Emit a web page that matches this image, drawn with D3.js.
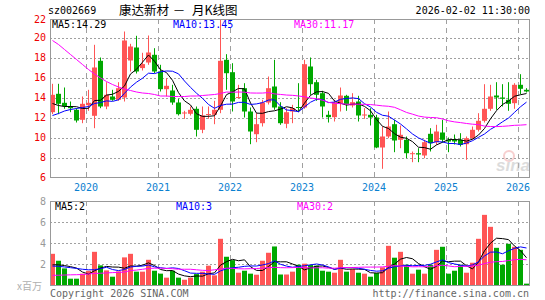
<!DOCTYPE html>
<html>
<head>
<meta charset="utf-8">
<script src="https://cdn.jsdelivr.net/npm/d3@7"></script>
<style>
  body { margin: 0; background: #fff; }
  svg text { font-family: "DejaVu Sans Mono", monospace; font-size: 10px; }
</style>
</head>
<body>
<div class="chart-container"></div>
<script>
// sz002669 monthly K line, Jul 2019 .. Feb 2026
const firstMonth = new Date(2019, 6, 1);

const open  = [12.53,14.37,13.47,13.13,12.77,11.77,13.23,12.17,17.67,13.1, 14.1,13.77,14.0,17.7,19.0,16.94,17.5,18.27,16.6,14.83,
               14.7,13.5,12.4,12.37,12.87,10.77,12.25,12.27,12.77,17.77, 16.53,13.95,14.93,12.6,10.33,11.43,13.5,15.1,13.1,11.37,
               12.6,13.05,13.0,17.1,15.53,14.43,12.27,12.03,13.43,14.17, 13.2,13.6,12.2,12.27,12.0,9.0,10.1,11.33,9.77,9.77,
               8.33,8.43,8.2,10.37,9.53,10.5,9.77,9.77,9.77,9.33, 9.93,10.77,11.67,12.87,14.2,14.0,13.77,13.43,15.27,14.77];
const high  = [15.37,15.37,15.0,13.6,12.93,14.1,14.77,19.27,18.0,15.53, 14.77,15.53,20.6,19.37,20.17,18.47,20.2,18.93,17.27,15.93,
               15.27,13.87,12.67,13.1,13.1,13.1,13.1,13.67,21.8,18.33, 17.43,15.27,15.43,13.0,12.43,13.77,16.1,17.77,13.53,12.93,
               13.27,15.43,17.77,18.0,15.77,14.67,12.67,13.77,15.0,14.27, 14.43,14.17,12.93,12.93,12.27,11.1,12.6,11.77,11.2,10.1,
               8.6,8.93,9.77,10.93,11.27,11.77,10.0,10.3,10.43,10.1, 11.1,12.43,15.33,15.27,15.53,15.33,15.53,15.43,16.33,14.93];
const low   = [12.33,12.33,12.87,12.53,11.5,11.43,12.67,10.93,12.93,12.83, 13.67,13.67,13.6,16.6,16.4,16.7,17.27,16.43,14.6,14.1,
               13.27,12.2,11.87,12.2,10.1,10.43,11.87,11.33,12.43,14.77, 12.6,13.93,12.0,9.33,9.53,11.1,13.3,12.77,11.27,10.93,
               11.43,12.6,12.87,14.27,13.67,12.0,11.5,11.6,12.6,12.67, 13.0,11.6,11.87,11.2,8.93,6.87,9.93,8.53,8.93,7.93,
               7.53,7.53,7.93,8.6,9.27,9.5,8.53,9.3,9.1,7.77, 9.8,10.6,11.5,12.67,12.77,13.1,12.67,12.87,14.33,14.5];
const close = [14.27,13.37,13.13,12.93,11.7,13.37,13.47,17.0,13.1,14.27, 13.77,14.93,19.7,19.1,16.6,17.34,18.5,16.6,14.83,15.17,
               13.5,12.33,12.5,12.77,10.77,12.2,12.35,12.77,17.67,16.43, 13.6,14.05,12.6,10.6,11.33,13.5,14.93,13.0,11.43,12.53,
               12.93,12.95,17.33,15.33,14.27,13.1,12.03,13.53,14.2,13.33, 13.53,12.2,12.3,12.0,9.0,10.1,11.1,9.7,10.27,8.43,
               8.43,8.3,9.53,9.43,10.6,9.77,9.6,9.6,9.27,9.93, 10.77,11.67,12.87,14.1,14.0,13.87,13.37,15.27,14.87,14.6];
// volume, millions of shares
const volume = [2.97,2.31,1.58,0.6,0.6,1.08,1.35,3.16,1.87,1.39, 0.79,1.3,2.63,2.97,1.27,1.27,2.4,1.36,1.08,0.7,
                1.36,0.7,0.5,0.7,1.04,1.27,1.84,0.92,4.4,2.69, 2.37,1.17,1.36,1.08,0.98,2.31,3.07,3.67,1.0,1.0,
                1.27,1.93,2.03,1.9,1.84,1.36,1.27,1.17,2.4,1.27, 1.52,1.17,1.08,0.79,1.14,1.68,3.73,2.6,3.16,1.93,
                1.08,1.46,1.08,1.93,3.35,3.64,1.08,1.36,1.93,1.17, 2.12,4.4,6.68,5.54,3.54,1.93,3.92,3.64,3.35,0.13];

// moving average values before a full window exists
const ma5Head  = [13.4,13.2,13.1,13.1];
const ma10Head = [12.2,12.4,12.65,12.8,12.9,13.0,13.1,13.4,13.5];
const ma30Head = [19.7,19.3,18.8,18.3,17.8,17.3,16.8,16.35,15.95,15.6,15.3,15.05,14.85,14.7,14.55,
                  14.45,14.4,14.3,14.15,14.15,14.1,14.1,14.1,14.15,14.15,14.2,14.25,14.3,14.4];
const vma5Head  = [1.92,1.92,1.85,1.75];
const vma10Head = [1.8,1.78,1.72,1.65,1.58,1.5,1.45,1.45,1.55];
const vma30Head = [0.92,0.93,0.95,0.97,0.98,1.0,1.05,1.1,1.12,1.15,1.18,1.2,1.23,1.38,1.42,
                   1.5,1.58,1.6,1.6,1.58,1.55,1.5,1.5,1.5,1.45,1.4,1.38,1.45,1.52];

const priceTicks = [6,8,10,12,14,16,18,20,22];
const volTicks = [2,4,6,8];
const yearLabels = ["2020","2021","2022","2023","2024","2025","2026"];
const priceMaLabels = ["MA5:14.29","MA10:13.45","MA30:11.17"];
const volMaLabels = ["MA5:2","MA10:3","MA30:2"];

const w = 545, h = 300;
const left = 50, right = 529.5;
const priceTop = 19, priceBottom = 177.5;
const volTop = 201, volBottom = 285;
const colors = { up: '#ff5555', down: '#00a800', ma5: '#000000', ma10: '#0000ff', ma30: '#ff00ff',
                 grid: '#a0a0a0', frame: '#999999' };

const months = d3.timeMonth.range(firstMonth, d3.timeMonth.offset(firstMonth, close.length));
const idx = d3.range(close.length);

function movingAvg(values, n, head) {
  return values.map((v, i) => i < n - 1 ? head[i] : d3.mean(values.slice(i - n + 1, i + 1)));
}

const x = d3.scaleBand().domain(idx).range([left, left + 6 * idx.length - 1]).paddingInner(1 / 6).paddingOuter(0);
const y = d3.scaleLinear().domain([6, 22]).range([priceBottom, 17.5]);
const yv = d3.scaleLinear().domain([0, 8]).range([volBottom, volTop]);
const cx = i => x(i) + x.bandwidth() / 2;
const isUp = i => close[i] >= open[i];

const svg = d3.select('.chart-container').append('svg')
  .attr('width', w).attr('height', h);
svg.append('rect').attr('width', w).attr('height', h).attr('fill', '#fff');

/* grid lines */
const yearIdx = yearLabels.map(yr => months.findIndex(m => m.getFullYear() === +yr && m.getMonth() === 0));

svg.append('g').selectAll('line').data(priceTicks.slice(1, -1)).enter().append('line')
  .attr('x1', left).attr('x2', right)
  .attr('y1', d => Math.round(y(d)) + 0.5).attr('y2', d => Math.round(y(d)) + 0.5)
  .style('stroke', colors.grid).style('stroke-dasharray', '2 2');
svg.append('g').selectAll('line').data(volTicks.slice(0, -1)).enter().append('line')
  .attr('x1', left).attr('x2', right)
  .attr('y1', d => Math.round(yv(d)) + 0.5).attr('y2', d => Math.round(yv(d)) + 0.5)
  .style('stroke', colors.grid).style('stroke-dasharray', '2 2');

[[priceTop, priceBottom], [volTop, volBottom]].forEach(([t, b]) => {
  svg.append('g').selectAll('line').data(yearIdx).enter().append('line')
    .attr('x1', d => x(d) + 0.5).attr('x2', d => x(d) + 0.5)
    .attr('y1', t).attr('y2', b)
    .style('stroke', colors.grid).style('stroke-dasharray', '5 4');
});

/* sina watermark */
const wm = svg.append('g').attr('opacity', 0.5);
wm.append('circle').attr('cx', 509).attr('cy', 156).attr('r', 5)
  .style('fill', 'none').style('stroke', '#f0a0a0').style('stroke-width', 2);
wm.append('text').attr('x', 496).attr('y', 171).text('sina')
  .style('font-family', 'Liberation Sans, sans-serif').style('font-size', '17px')
  .style('font-style', 'italic').style('font-weight', 'bold').style('fill', '#bbbbbb');

/* candles */
const candles = svg.append('g').selectAll('g').data(idx).enter().append('g');
candles.append('line')
  .attr('x1', i => Math.floor(cx(i)) + 0.5).attr('x2', i => Math.floor(cx(i)) + 0.5)
  .attr('y1', i => y(high[i])).attr('y2', i => y(low[i]))
  .style('stroke', i => isUp(i) ? colors.up : colors.down);
candles.append('rect')
  .attr('x', i => x(i)).attr('width', x.bandwidth())
  .attr('y', i => y(Math.max(open[i], close[i])))
  .attr('height', i => Math.max(1, Math.abs(y(open[i]) - y(close[i]))))
  .style('fill', i => isUp(i) ? colors.up : colors.down);

/* volume bars */
svg.append('g').selectAll('rect').data(idx).enter().append('rect')
  .attr('x', i => x(i)).attr('width', x.bandwidth())
  .attr('y', i => yv(volume[i]))
  .attr('height', i => volBottom - yv(volume[i]))
  .style('fill', i => isUp(i) ? colors.up : colors.down);

/* moving average lines */
const priceMa = [movingAvg(close, 5, ma5Head), movingAvg(close, 10, ma10Head), movingAvg(close, 30, ma30Head)];
const volMa = [movingAvg(volume, 5, vma5Head), movingAvg(volume, 10, vma10Head), movingAvg(volume, 30, vma30Head)];
const maColors = [colors.ma5, colors.ma10, colors.ma30];

priceMa.forEach((s, k) => {
  svg.append('path').datum(s)
    .attr('d', d3.line().x((d, i) => cx(i)).y(d => y(d)))
    .style('fill', 'none').style('stroke', maColors[k]).style('stroke-width', 1);
});
volMa.forEach((s, k) => {
  svg.append('path').datum(s)
    .attr('d', d3.line().x((d, i) => cx(i)).y(d => yv(d)))
    .style('fill', 'none').style('stroke', maColors[k]).style('stroke-width', 1);
});

/* frames */
svg.append('rect').attr('x', left + 0.5).attr('y', priceTop + 0.5)
  .attr('width', right - left - 0.5).attr('height', priceBottom - priceTop - 0.5)
  .style('fill', 'none').style('stroke', colors.frame);
svg.append('rect').attr('x', left + 0.5).attr('y', volTop + 0.5)
  .attr('width', right - left - 0.5).attr('height', volBottom - volTop)
  .style('fill', 'none').style('stroke', colors.frame);

/* axis labels */
svg.append('g').selectAll('text').data(priceTicks).enter().append('text')
  .attr('x', 46).attr('y', d => Math.max(y(d), 19.5) + 3.5)
  .attr('text-anchor', 'end').style('fill', '#ee0000').text(d => d);
svg.append('g').selectAll('text').data(volTicks).enter().append('text')
  .attr('x', 46).attr('y', d => yv(d) + 3.5)
  .attr('text-anchor', 'end').style('fill', '#999999').text(d => d);
svg.append('g').selectAll('text').data(yearLabels).enter().append('text')
  .attr('x', (d, k) => x(yearIdx[k])).attr('y', 190.5)
  .attr('text-anchor', 'middle').style('fill', '#0a80d0').text(d => d);
svg.append('text').attr('x', 17).attr('y', 290).text('x百万')
  .style('font-family', 'Noto Sans CJK SC').style('font-size', '10px').style('fill', '#b0b0b0');

/* MA labels */
[52, 173, 294].forEach((px, k) => {
  svg.append('text').attr('x', px).attr('y', 28).style('fill', maColors[k]).text(priceMaLabels[k]);
  svg.append('text').attr('x', px + 3).attr('y', 210).style('fill', maColors[k]).text(volMaLabels[k]);
});

/* title and footer */
svg.append('text').attr('x', 48).attr('y', 14).text('sz002669');
const title = svg.append('text').attr('y', 15)
  .style('font-family', 'Noto Sans CJK SC').style('font-size', '12.5px');
title.append('tspan').attr('x', 119).text('康达新材');
title.append('tspan').attr('x', 174).style('font-size', '10px').text('一');
title.append('tspan').attr('x', 192).text('月K线图');
svg.append('text').attr('x', 530).attr('y', 14).attr('text-anchor', 'end').text('2026-02-02 11:30:00');
svg.append('text').attr('x', 50).attr('y', 297).style('fill', '#666').text('Copyright 2026 SINA.COM');
svg.append('text').attr('x', 529).attr('y', 297).attr('text-anchor', 'end').style('fill', '#666')
  .text('http://finance.sina.com.cn');
</script>
</body>
</html>
